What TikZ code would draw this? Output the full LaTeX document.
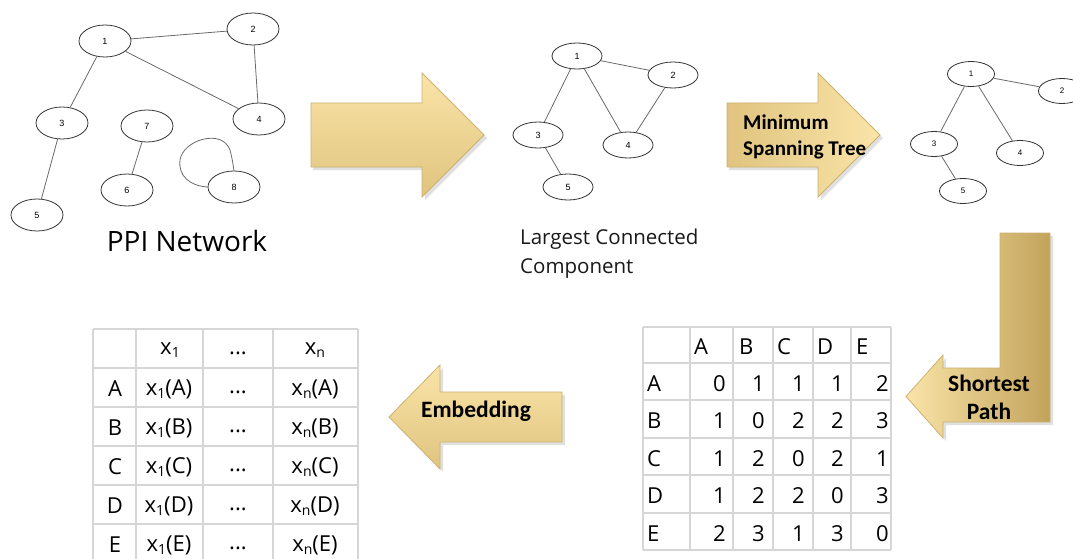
\documentclass[tikz,border=0pt]{standalone}
\usepackage{fontspec}
\setmainfont{Open Sans}
\newfontfamily\labelfont{Carlito}
\newfontfamily\nodefont{Liberation Sans}
\usetikzlibrary{shapes.geometric}

\definecolor{goldA}{HTML}{FAE4A8}
\definecolor{goldB}{HTML}{E0C47F}
\definecolor{goldC}{HTML}{C2A35C}
\definecolor{goldEdge}{HTML}{CDB170}
\definecolor{gridgray}{HTML}{D6D6D6}
\definecolor{edgegray}{HTML}{6A6A6A}

\newcommand{\xsub}[1]{x{\fontsize{14}{14}\selectfont\raisebox{-3.5pt}{#1}}}

\tikzset{
  vA/.style={ellipse, draw=black!80, line width=0.8pt, fill=white,
    minimum width=52pt, minimum height=32pt, inner sep=0pt,
    font=\nodefont\fontsize{9}{9}\selectfont},
  vB/.style={vA, minimum width=50pt, minimum height=26pt},
  vC/.style={vA, minimum width=47pt, minimum height=25pt,
    font=\nodefont\fontsize{8}{8}\selectfont},
  link/.style={draw=edgegray, line width=0.8pt},
  bigarrow/.style={draw=goldEdge, line width=0.8pt},
  arrowtext/.style={font=\labelfont\bfseries\fontsize{21}{26}\selectfont, text=black, inner sep=0pt},
  bigarrowtext/.style={arrowtext, font=\labelfont\bfseries\fontsize{23.5}{28}\selectfont},
  gridline/.style={draw=gridgray, line width=1.6pt},
  celltext/.style={font=\fontsize{22}{22}\selectfont, inner sep=0pt},
  shadowfill/.style={fill=black, opacity=0.12}
}

\begin{document}
\begin{tikzpicture}[x=1pt, y=-1pt]
\useasboundingbox (0,0) rectangle (1073,559);
\fill[white] (0,0) rectangle (1073,559);

% ---------- PPI network ----------
\node[vA] (g1n1) at (105,41) {1};
\node[vA] (g1n2) at (253,29) {2};
\node[vA] (g1n3) at (62,123) {3};
\node[vA] (g1n4) at (259,119) {4};
\node[vA] (g1n5) at (37,215) {5};
\node[vA] (g1n6) at (127,190) {6};
\node[vA] (g1n7) at (147,126) {7};
\node[vA] (g1n8) at (234,187) {8};
\draw[link] (g1n1) -- (g1n2);
\draw[link] (g1n1) -- (g1n4);
\draw[link] (g1n1) -- (g1n3);
\draw[link] (g1n2) -- (g1n4);
\draw[link] (g1n3) -- (g1n5);
\draw[link] (g1n7) -- (g1n6);
\draw[link] (g1n8.west) .. controls (190,186) and (178,176) .. (180,160)
  .. controls (183,140) and (222,128) .. (230,150) .. controls (232,158) .. (g1n8.north);
\node[font=\fontsize{28}{28}\selectfont, inner sep=0pt] (ppi) at (187,241) {PPI Network};

% ---------- largest connected component ----------
\node[vB] (g2n1) at (577,56) {1};
\node[vB] (g2n2) at (673,75) {2};
\node[vB] (g2n3) at (538,135) {3};
\node[vB] (g2n4) at (628,145) {4};
\node[vB] (g2n5) at (568,187) {5};
\draw[link] (g2n1) -- (g2n2);
\draw[link] (g2n1) -- (g2n3);
\draw[link] (g2n1) -- (g2n4);
\draw[link] (g2n2) -- (g2n4);
\draw[link] (g2n3) -- (g2n5);
\node[font=\fontsize{20.5}{29}\selectfont, text=black!90, align=left, anchor=north west, inner sep=0pt]
  (lcc) at (520,229) {Largest Connected\\Component};

% ---------- minimum spanning tree ----------
\node[vC] (g3n1) at (971,74) {1};
\node[vC] (g3n2) at (1062,91) {2};
\node[vC] (g3n3) at (934,144) {3};
\node[vC] (g3n4) at (1020,153) {4};
\node[vC] (g3n5) at (963,191) {5};
\draw[link] (g3n1) -- (g3n2);
\draw[link] (g3n1) -- (g3n3);
\draw[link] (g3n1) -- (g3n4);
\draw[link] (g3n3) -- (g3n5);

% ---------- block arrows ----------
% arrow 1
\fill[shadowfill] (313,106) -- (425,106) -- (425,76) -- (487,138) -- (425,200) -- (425,170) -- (313,170) -- cycle;
\shade[bigarrow, top color=goldA, bottom color=goldB]
  (311,103) -- (422,103) -- (422,73) -- (484,135) -- (422,197) -- (422,167) -- (311,167) -- cycle;

% arrow 2
\fill[shadowfill] (729,106) -- (821,106) -- (821,76) -- (883,138) -- (821,200) -- (821,170) -- (729,170) -- cycle;
\shade[bigarrow, shading angle=60, left color=goldB, right color=goldA]
  (727,103) -- (818,103) -- (818,73) -- (880,135) -- (818,197) -- (818,167) -- (727,167) -- cycle;
\node[arrowtext, align=left, anchor=west] (mst) at (743,137) {Minimum\\Spanning Tree};

% arrow 3 (bent)
\fill[shadowfill] (1003,236) -- (1053,236) -- (1053,425) -- (946,425) -- (946,441) -- (909,400)
  -- (946,358) -- (946,371) -- (1003,371) -- cycle;
\shade[bigarrow, left color=goldA, right color=goldC]
  (1000,233) -- (1050,233) -- (1050,422) -- (943,422) -- (943,438) -- (906,396.5)
  -- (943,355) -- (943,368) -- (1000,368) -- cycle;
\node[bigarrowtext, align=center] (spath) at (989,397) {Shortest\\Path};

% arrow 4
\fill[shadowfill] (565,395) -- (443,395) -- (443,368) -- (392,420) -- (443,472) -- (443,445) -- (565,445) -- cycle;
\shade[bigarrow, top color=goldA, bottom color=goldB]
  (562,392) -- (440,392) -- (440,365) -- (389,417) -- (440,469) -- (440,442) -- (562,442) -- cycle;
\node[bigarrowtext] (emb) at (476,411) {Embedding};

% ---------- shortest path table ----------
\foreach \xx in {643,690,733,773,813,851,891}
  \draw[gridline] (\xx,327) -- (\xx,550);
\foreach \yy in {327,363,400,438,475,513,550}
  \draw[gridline] (643,\yy) -- (891,\yy);

\foreach \lab/\xx in {A/694,B/739,C/777,D/817,E/856}
  \node[celltext, anchor=west] (dh\lab) at (\xx,347) {\lab};

\foreach \row/\yy/\vals in {A/384/{0,1,1,1,2}, B/421/{1,0,2,2,3}, C/459/{1,2,0,2,1},
                            D/496/{1,2,2,0,3}, E/534/{2,3,1,3,0}}{
  \node[celltext, anchor=west] (dr\row) at (647,\yy) {\row};
  \foreach \v [count=\c] in \vals {
    \pgfmathsetmacro{\xr}{{726,765,805,844,889}[\c-1]}
    \node[celltext, anchor=east] (d\row\c) at (\xr,\yy) {\v};
  }
}

% ---------- embedding table ----------
\foreach \xx in {93,136,203,273,358}
  \draw[gridline] (\xx,329) -- (\xx,559);
\foreach \yy in {329,368,407,446,485,524}
  \draw[gridline] (93,\yy) -- (358,\yy);

\node[celltext] (eh1) at (170,350) {\xsub{1}};
\node[celltext] (eh2) at (238,353) {...};
\node[celltext] (eh3) at (315,350) {\xsub{n}};
\foreach \row/\yy in {A/389, B/428, C/467, D/506, E/545}{
  \node[celltext] (er\row) at (115,\yy) {\row};
  \node[celltext] (ea\row) at (169,\yy) {\xsub{1}(\row)};
  \node[celltext] (eb\row) at (238,\yy+3) {...};
  \node[celltext] (ec\row) at (315,\yy) {\xsub{n}(\row)};
}
\end{tikzpicture}
\end{document}
